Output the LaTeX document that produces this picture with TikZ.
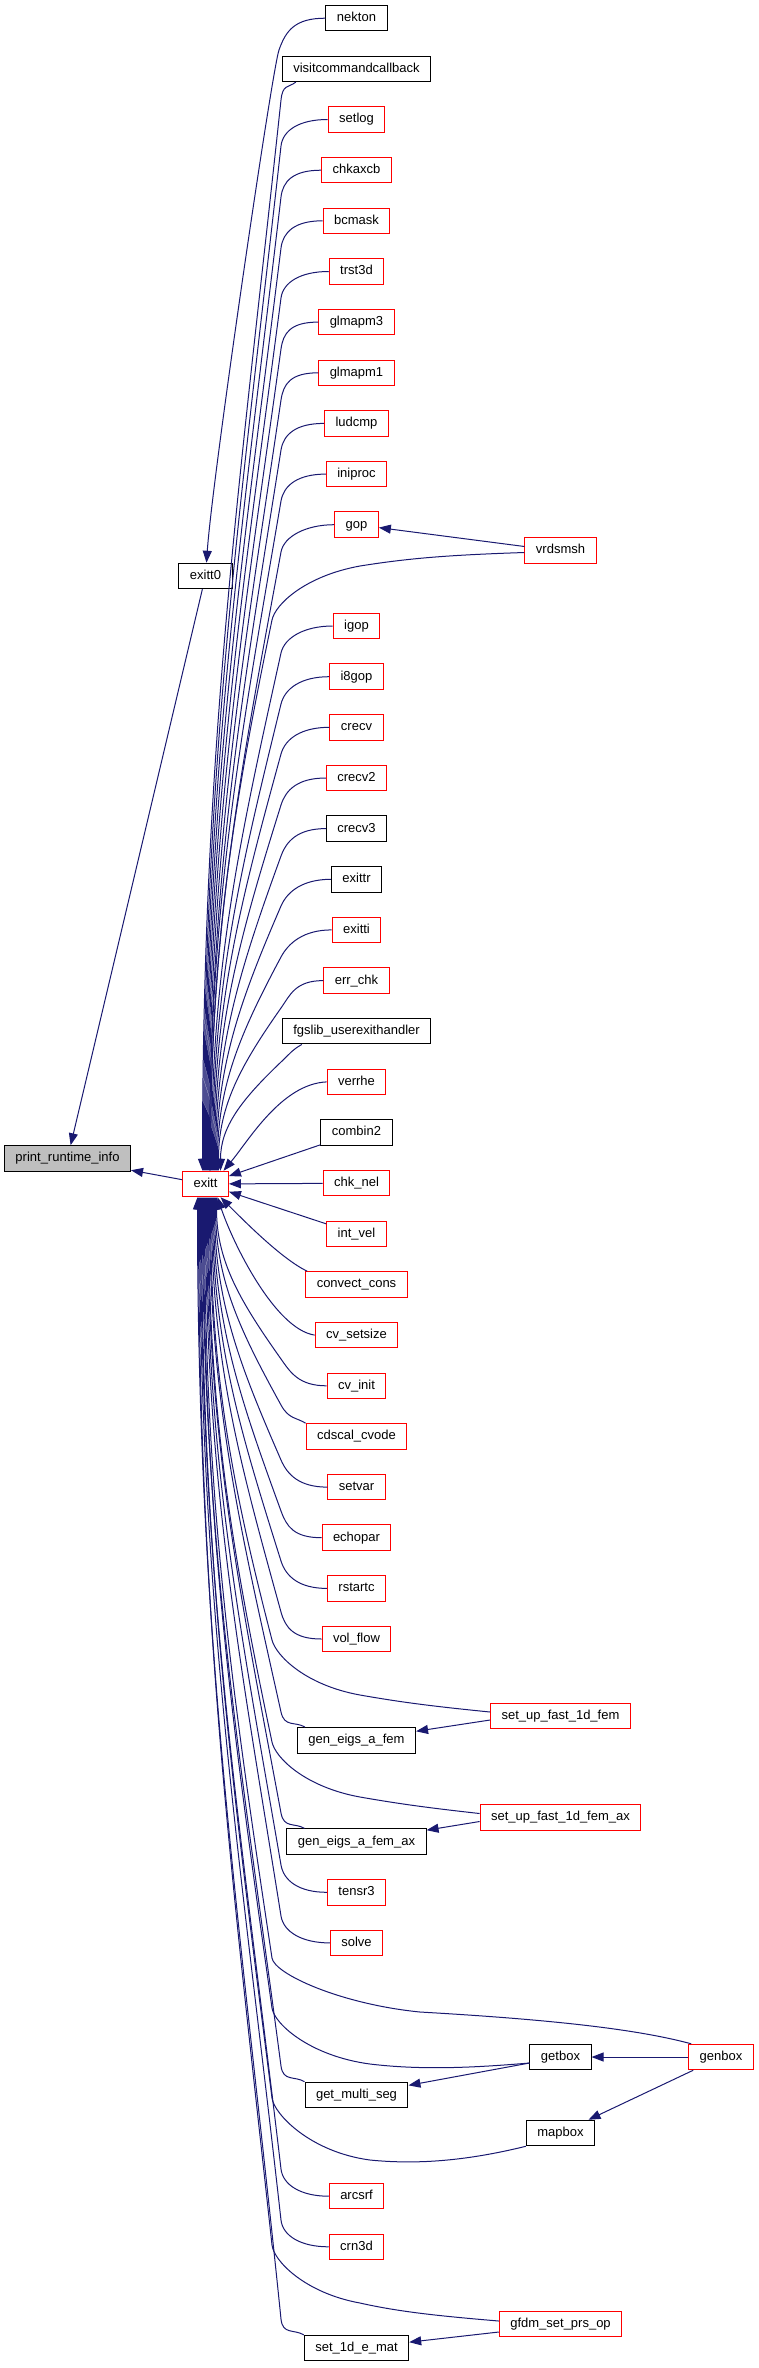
\documentclass[tikz,border=0pt]{standalone}
\usepackage{fontspec}
\setmainfont{Liberation Sans}
\usetikzlibrary{arrows.meta,calc}

\definecolor{edgeblue}{HTML}{191970}
\definecolor{rootgray}{HTML}{BFBFBF}

\tikzset{
  fnbox/.style={rectangle, draw=black, fill=white, line width=1pt, inner xsep=11pt, inner ysep=0pt,
    minimum height=25.5pt, text height=9.5pt, text depth=2.7pt, font=\fontsize{13}{15}\selectfont},
  fnred/.style={fnbox, draw=red},
  fnroot/.style={fnbox, fill=rootgray},
  callarrow/.style={draw=edgeblue, line width=1pt, -{Triangle[length=12pt,width=9pt]}},
}

% caller -> bend -> callee
\newcommand{\callpath}[4]{%
  \coordinate (bnd) at (#3);
  \coordinate (tip) at (#4);
  \coordinate (c1) at ($(bnd)!0.35!(bnd |- tip) + (-40,0)$);
  \coordinate (c0) at ($(bnd)!-16pt!(c1)$);
  \coordinate (c2) at ($(tip)!0.4!(tip |- bnd)$);
  \draw[callarrow] #1 .. controls #2 and (c0) .. (bnd) .. controls (c1) and (c2) .. (tip);
}

\begin{document}
\begin{tikzpicture}[x=1pt, y=-1pt]
\useasboundingbox (0,0) rectangle (759,2368);

% left part
\node[fnroot] (printinfo) at (67.5,1158.5) {print\_runtime\_info};
\node[fnbox] (exitt0) at (205.5,576) {exitt0};
\node[fnred] (exitt) at (205.5,1184) {exitt};

% callers of exitt
\node[fnbox] (nekton) at (356.5,18.2) {nekton};
\node[fnbox] (visitcmd) at (356.5,68.9) {visitcommandcallback};
\node[fnred] (setlog) at (356.5,119.5) {setlog};
\node[fnred] (chkaxcb) at (356.5,170.2) {chkaxcb};
\node[fnred] (bcmask) at (356.5,220.8) {bcmask};
\node[fnred] (trst3d) at (356.5,271.5) {trst3d};
\node[fnred] (glmapm3) at (356.5,322.1) {glmapm3};
\node[fnred] (glmapm1) at (356.5,372.8) {glmapm1};
\node[fnred] (ludcmp) at (356.5,423.4) {ludcmp};
\node[fnred] (iniproc) at (356.5,474.1) {iniproc};
\node[fnred] (gop) at (356.5,524.7) {gop};
\node[fnred] (igop) at (356.5,626.0) {igop};
\node[fnred] (i8gop) at (356.5,676.7) {i8gop};
\node[fnred] (crecv) at (356.5,727.3) {crecv};
\node[fnred] (crecv2) at (356.5,778.0) {crecv2};
\node[fnbox] (crecv3) at (356.5,828.6) {crecv3};
\node[fnbox] (exittr) at (356.5,879.3) {exittr};
\node[fnred] (exitti) at (356.5,929.9) {exitti};
\node[fnred] (errchk) at (356.5,980.6) {err\_chk};
\node[fnbox] (fgslib) at (356.5,1031.2) {fgslib\_userexithandler};
\node[fnred] (verrhe) at (356.5,1081.9) {verrhe};
\node[fnbox] (combin2) at (356.5,1132.5) {combin2};
\node[fnred] (chknel) at (356.5,1183.2) {chk\_nel};
\node[fnred] (intvel) at (356.5,1233.8) {int\_vel};
\node[fnred] (convect) at (356.5,1284.5) {convect\_cons};
\node[fnred] (cvsetsize) at (356.5,1335.1) {cv\_setsize};
\node[fnred] (cvinit) at (356.5,1385.8) {cv\_init};
\node[fnred] (cdscal) at (356.5,1436.4) {cdscal\_cvode};
\node[fnred] (setvar) at (356.5,1487.1) {setvar};
\node[fnred] (echopar) at (356.5,1537.7) {echopar};
\node[fnred] (rstartc) at (356.5,1588.4) {rstartc};
\node[fnred] (volflow) at (356.5,1639.0) {vol\_flow};
\node[fnbox] (geneigs) at (356.5,1740.3) {gen\_eigs\_a\_fem};
\node[fnbox] (geneigsax) at (356.5,1841.6) {gen\_eigs\_a\_fem\_ax};
\node[fnred] (tensr3) at (356.5,1892.3) {tensr3};
\node[fnred] (solve) at (356.5,1942.9) {solve};
\node[fnbox] (getmultiseg) at (356.5,2094.9) {get\_multi\_seg};
\node[fnred] (arcsrf) at (356.5,2196.2) {arcsrf};
\node[fnred] (crn3d) at (356.5,2246.8) {crn3d};
\node[fnbox] (set1demat) at (356.5,2348.1) {set\_1d\_e\_mat};

% second level callers
\node[fnred] (vrdsmsh) at (560.5,550.5) {vrdsmsh};
\node[fnred] (setup) at (560.5,1716) {set\_up\_fast\_1d\_fem};
\node[fnred] (setupax) at (560.5,1817.5) {set\_up\_fast\_1d\_fem\_ax};
\node[fnbox] (getbox) at (560.5,2057) {getbox};
\node[fnbox] (mapbox) at (560.5,2133) {mapbox};
\node[fnred] (gfdm) at (560.5,2324) {gfdm\_set\_prs\_op};
\node[fnred] (genbox) at (721,2057) {genbox};

% exitt0 and print_runtime_info
\draw[callarrow] (nekton.west) .. controls +(-30,0) and (286,30) .. (279,50)
  .. controls (272,70) and (212,480) .. ([xshift=1pt]exitt0.north);
\draw[callarrow] (exitt0) -- (printinfo);
\draw[callarrow] (exitt) -- (printinfo);

% from above
\callpath{([xshift=14pt]visitcmd.south west)}{+(-8,6)}{281,100}{[xshift=-3pt]exitt.north}
\callpath{(setlog.west)}{+(-28,0)}{281,146}{[xshift=-2pt]exitt.north}
\callpath{(chkaxcb.west)}{+(-28,0)}{281,197}{[xshift=-1pt]exitt.north}
\callpath{(bcmask.west)}{+(-28,0)}{281,248}{exitt.north}
\callpath{(trst3d.west)}{+(-28,0)}{281,298}{[xshift=1pt]exitt.north}
\callpath{(glmapm3.west)}{+(-28,0)}{281,349}{[xshift=2pt]exitt.north}
\callpath{(glmapm1.west)}{+(-28,0)}{281,400}{[xshift=3pt]exitt.north}
\callpath{(ludcmp.west)}{+(-28,0)}{281,450}{[xshift=4pt]exitt.north}
\callpath{(iniproc.west)}{+(-28,0)}{281,501}{[xshift=4pt]exitt.north}
\callpath{(gop.west)}{+(-28,0)}{281,552}{[xshift=5pt]exitt.north}
\callpath{([yshift=-2pt]vrdsmsh.west) .. controls (450,555) and (410,558) .. (360,566)}{+(-55,10)}{272,620}{[xshift=5pt]exitt.north}
\draw[callarrow] ([yshift=4pt]vrdsmsh.west) -- (gop);
\callpath{(igop.west)}{+(-28,0)}{281,653}{[xshift=6pt]exitt.north}
\callpath{(i8gop.west)}{+(-28,0)}{281,704}{[xshift=7pt]exitt.north}
\callpath{(crecv.west)}{+(-28,0)}{281,754}{[xshift=8pt]exitt.north}
\callpath{(crecv2.west)}{+(-28,0)}{281,805}{[xshift=9pt]exitt.north}
\callpath{(crecv3.west)}{+(-28,0)}{281,856}{[xshift=10pt]exitt.north}
\callpath{(exittr.west)}{+(-28,0)}{281,906}{[xshift=11pt]exitt.north}
\callpath{(exitti.west)}{+(-28,0)}{281,957}{[xshift=12pt]exitt.north}
\callpath{(errchk.west)}{+(-28,0)}{281,1008}{[xshift=13pt]exitt.north}
\callpath{([xshift=20pt]fgslib.south west)}{+(-10,6)}{281,1062}{[xshift=15pt]exitt.north}
\draw[callarrow] (verrhe.west) .. controls +(-45,2) and +(25,-30) .. ([xshift=18pt]exitt.north);

% beside
\draw[callarrow] (combin2) -- (exitt);
\draw[callarrow] (chknel) -- (exitt);
\draw[callarrow] (intvel) -- (exitt);

% from below
\draw[callarrow] ([xshift=2pt]convect.north west) .. controls +(-25,-12) and +(25,25) .. ([xshift=15pt]exitt.south);
\draw[callarrow] (cvsetsize.west) .. controls +(-40,-6) and +(15,45) .. ([xshift=12pt]exitt.south);
\callpath{(cvinit.west)}{+(-28,0)}{281,1359}{[xshift=11pt]exitt.south}
\callpath{(cdscal.north west)}{+(-10,-6)}{281,1405}{[xshift=10pt]exitt.south}
\callpath{(setvar.west)}{+(-28,0)}{281,1460}{[xshift=9pt]exitt.south}
\callpath{(echopar.west)}{+(-28,0)}{281,1511}{[xshift=8pt]exitt.south}
\callpath{(rstartc.west)}{+(-28,0)}{281,1561}{[xshift=7pt]exitt.south}
\callpath{(volflow.west)}{+(-28,0)}{281,1612}{[xshift=6pt]exitt.south}
\callpath{([yshift=4pt]setup.west) .. controls (430,1706) and (400,1702) .. (360,1695)}{+(-55,-10)}{272,1640}{[xshift=5pt]exitt.south}
\draw[callarrow] ([yshift=-4pt]setup.west) -- (geneigs);
\callpath{([xshift=8pt]geneigs.north west)}{+(-10,-6)}{281,1712}{[xshift=4pt]exitt.south}
\callpath{([yshift=4pt]setupax.west) .. controls (430,1808) and (400,1804) .. (360,1797)}{+(-55,-10)}{272,1742}{[xshift=3pt]exitt.south}
\draw[callarrow] ([yshift=-4pt]setupax.west) -- (geneigsax);
\callpath{([xshift=18pt]geneigsax.north west)}{+(-10,-6)}{281,1813}{[xshift=2pt]exitt.south}
\callpath{(tensr3.west)}{+(-28,0)}{281,1865}{[xshift=1pt]exitt.south}
\callpath{(solve.west)}{+(-28,0)}{281,1916}{exitt.south}
\callpath{([xshift=3pt]genbox.north west) .. controls (640,2030) and (560,2020) .. (420,2012)}{+(-80,-8)}{272,1958}{[xshift=-1pt]exitt.south}
\draw[callarrow] (genbox) -- (getbox);
\draw[callarrow] ([xshift=5pt]genbox.south west) -- (mapbox);
\callpath{([yshift=-6pt]getbox.west) .. controls (470,2068) and (420,2070) .. (370,2064)}{+(-60,-8)}{272,2008}{[xshift=-2pt]exitt.south}
\draw[callarrow] ([yshift=-6pt]getbox.west) -- (getmultiseg);
\callpath{(getmultiseg.north west)}{+(-10,-6)}{281,2066}{[xshift=-3pt]exitt.south}
\callpath{(mapbox.south west) .. controls (470,2160) and (420,2165) .. (370,2160)}{+(-60,-8)}{272,2098}{[xshift=-4pt]exitt.south}
\callpath{(arcsrf.west)}{+(-28,0)}{281,2169}{[xshift=-5pt]exitt.south}
\callpath{(crn3d.west)}{+(-28,0)}{281,2220}{[xshift=-6pt]exitt.south}
\callpath{([yshift=3pt]gfdm.west) .. controls (440,2316) and (400,2312) .. (360,2303)}{+(-55,-10)}{272,2245}{[xshift=-7pt]exitt.south}
\draw[callarrow] ([yshift=-8pt]gfdm.west) -- (set1demat);
\callpath{(set1demat.north west)}{+(-10,-6)}{281,2319}{[xshift=-8pt]exitt.south}

\end{tikzpicture}
\end{document}
